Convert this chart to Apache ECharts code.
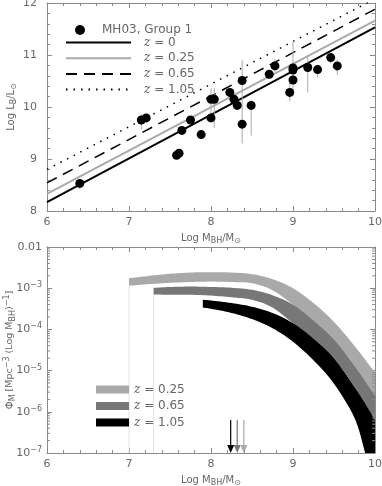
<!DOCTYPE html>
<html><head><meta charset="utf-8">
<script src="https://cdn.jsdelivr.net/npm/echarts@6/dist/echarts.min.js"></script>
<style>html,body{margin:0;padding:0;background:#fff}#c{width:382px;height:486px}</style>
</head><body><div id="c"></div>
<script>
// ---------- Top panel: MH03 Group 1 data ----------
const ptX = [6.40, 7.15, 7.21, 7.58, 7.61, 7.645, 7.75, 7.88, 8.00, 8.00, 8.04, 8.23, 8.28, 8.32, 8.38, 8.38, 8.49, 8.71, 8.78, 8.96, 9.00, 9.00, 9.00, 9.18, 9.30, 9.46, 9.54];
const ptY = [8.53, 9.75, 9.79, 9.07, 9.11, 9.55, 9.75, 9.47, 9.79, 10.15, 10.15, 10.28, 10.15, 10.03, 10.51, 9.67, 10.03, 10.63, 10.79, 10.28, 10.75, 10.71, 10.52, 10.76, 10.72, 10.95, 10.79];
const errLo = [8.42, 9.57, null, null, null, null, null, 9.40, null, 9.79, 9.60, 10.20, null, 9.95, 10.00, 9.30, 9.45, 10.55, 10.68, 10.11, 10.20, null, null, 10.28, 10.57, 10.84, 10.62];
const errHi = [8.60, 9.86, null, null, null, null, null, 9.55, null, 10.36, 10.37, 10.35, null, 10.10, 10.91, 10.00, 10.14, 10.70, 10.92, 10.46, 11.26, null, null, 11.00, 10.81, 11.03, 10.91];

// relations Log L_B vs Log M_BH
const relX = [6, 10];
const relZ0 = [8.17, 11.53];
const relZ025 = [8.33, 11.66];
const relZ065 = [8.54, 11.88];
const relZ105 = [8.80, 12.08];

// ---------- Bottom panel: mass function bands (log10 Phi) ----------
const bandAX = [7.0, 7.25, 7.5, 7.75, 8.0, 8.25, 8.5, 8.75, 9.0, 9.25, 9.5, 9.75, 10.0];
const bandAHi = [-2.76, -2.70, -2.65, -2.62, -2.61, -2.62, -2.66, -2.78, -3.00, -3.36, -3.82, -4.40, -5.05];
const bandALo = [-2.94, -2.90, -2.87, -2.85, -2.84, -2.85, -2.88, -3.05, -3.40, -3.78, -4.24, -4.88, -5.60];

const bandBX = [7.3, 7.5, 7.75, 8.0, 8.25, 8.5, 8.75, 9.0, 9.25, 9.5, 9.75, 10.0];
const bandBHi = [-2.99, -2.97, -2.96, -2.97, -2.99, -3.04, -3.17, -3.40, -3.78, -4.24, -4.88, -5.60];
const bandBLo = [-3.15, -3.16, -3.16, -3.18, -3.22, -3.28, -3.47, -3.85, -4.22, -4.70, -5.40, -6.20];

const bandCX = [7.9, 8.0, 8.25, 8.5, 8.75, 9.0, 9.25, 9.5, 9.75, 9.88, 10.0];
const bandCHi = [-3.28, -3.30, -3.36, -3.45, -3.60, -3.85, -4.22, -4.70, -5.40, -5.80, -6.20];
const bandCLo = [-3.47, -3.50, -3.60, -3.75, -3.97, -4.30, -4.75, -5.32, -6.15, -7.00, -7.90];

const arrowX = [8.24, 8.32, 8.40];
const arrowTopLog = -6.2;

// ---------- styles ----------
const FONT = 'DejaVu Sans';
const AX = '#8a8a8a';
const LBL = '#666';
const C_LIGHT = '#a9a9a9', C_MID = '#777777', C_DARK = '#000000';
const arrowColors = [C_DARK, C_MID, C_LIGHT];

const rich = {
  sub: {fontSize: 8, color: LBL, fontFamily: FONT, padding: [6, 0, 0, 0]},
  sup: {fontSize: 8, color: LBL, fontFamily: FONT, padding: [0, 0, 6, 0]},
  i: {fontStyle: 'italic', fontFamily: 'DejaVu Serif', fontSize: 12, color: '#555'},
  n: {fontSize: 10, color: LBL, fontFamily: FONT}
};

function xAxisCfg(grid, pos, labels, name) {
  return {
    gridIndex: grid, type: 'value', min: 6, max: 10, interval: 1, position: pos,
    axisLine: {show: true, onZero: false, lineStyle: {color: AX, width: 1}},
    axisTick: {show: true, inside: true, length: 5, lineStyle: {color: AX}},
    minorTick: {show: true, splitNumber: 5, length: 3, lineStyle: {color: AX}},
    splitLine: {show: false}, minorSplitLine: {show: false},
    axisLabel: {show: labels, color: LBL, fontSize: 11, margin: 6, fontFamily: FONT,
      formatter: v => String(v)},
    name: name || '', nameLocation: 'middle', nameGap: 20, nameMoveOverlap: false,
    nameTextStyle: {color: LBL, fontSize: 10, fontFamily: FONT, rich}
  };
}

// Catmull-Rom smoothing of pixel points (rendering only)
function smoothPts(pts) {
  const out = [];
  const n = pts.length;
  for (let i = 0; i < n - 1; i++) {
    const p0 = pts[Math.max(i - 1, 0)], p1 = pts[i], p2 = pts[i + 1], p3 = pts[Math.min(i + 2, n - 1)];
    const steps = 8;
    for (let s = 0; s < steps; s++) {
      const t = s / steps, t2 = t * t, t3 = t2 * t;
      const f = k => 0.5 * ((2 * p1[k]) + (-p0[k] + p2[k]) * t + (2 * p0[k] - 5 * p1[k] + 4 * p2[k] - p3[k]) * t2 + (-p0[k] + 3 * p1[k] - 3 * p2[k] + p3[k]) * t3);
      out.push([f(0), f(1)]);
    }
  }
  out.push(pts[n - 1]);
  return out;
}

function bandSeries(name, xs, hi, lo, color, drop) {
  return {
    type: 'custom', name, xAxisIndex: 2, yAxisIndex: 2, z: 3, clip: true,
    itemStyle: {color},
    data: xs.map((x, i) => [x, Math.pow(10, hi[i]), Math.pow(10, lo[i])]),
    renderItem: (params, api) => {
      if (params.dataIndex !== 0) return null;
      const top = smoothPts(xs.map((x, i) => api.coord([x, Math.pow(10, hi[i])])));
      const bot = smoothPts(xs.map((x, i) => api.coord([x, Math.pow(10, lo[i])]))).reverse();
      const children = [];
      if (drop) {
        const a = api.coord([xs[0], Math.pow(10, lo[0])]);
        const b = api.coord([xs[0], 1e-7]);
        children.push({type: 'line', shape: {x1: a[0], y1: a[1], x2: b[0], y2: b[1]},
          style: {stroke: '#e2e2e2', lineWidth: 1}});
      }
      children.push({type: 'polygon', shape: {points: top.concat(bot)},
        style: {fill: color}});
      return {type: 'group', children};
    }
  };
}

// minor ticks for the log axis (2..9 x 10^k)
const logMinor = [];
for (let k = -7; k <= -3; k++) for (let m = 2; m <= 9; m++) logMinor.push(m * Math.pow(10, k));

const option = {
  backgroundColor: '#fff',
  animation: false,
  textStyle: {fontFamily: FONT},
  grid: [
    {left: 47, right: 7, top: 3, height: 208, outerBoundsMode: 'none', containLabel: false},
    {left: 47, right: 7, top: 247, height: 206, outerBoundsMode: 'none', containLabel: false}
  ],
  xAxis: [
    xAxisCfg(0, 'bottom', true, 'Log M{sub|BH}/M{sub|⊙}'),
    xAxisCfg(0, 'top', false),
    xAxisCfg(1, 'bottom', true, 'Log M{sub|BH}/M{sub|⊙}'),
    xAxisCfg(1, 'top', false)
  ],
  yAxis: [
    {gridIndex: 0, type: 'value', min: 8, max: 12, interval: 1, position: 'left',
      axisLine: {show: true, onZero: false, lineStyle: {color: AX}},
      axisTick: {show: true, inside: true, length: 5, lineStyle: {color: AX}},
      minorTick: {show: true, splitNumber: 5, length: 3, lineStyle: {color: AX}},
      splitLine: {show: false},
      axisLabel: {color: LBL, fontSize: 11, margin: 10, fontFamily: FONT},
      name: 'Log L{sub|B}/L{sub|⊙}', nameLocation: 'middle', nameGap: 29, nameMoveOverlap: false,
      nameTextStyle: {color: LBL, fontSize: 10, fontFamily: FONT, rich}},
    {gridIndex: 0, type: 'value', min: 8, max: 12, interval: 1, position: 'right',
      axisLine: {show: true, onZero: false, lineStyle: {color: AX}},
      axisTick: {show: true, inside: true, length: 5, lineStyle: {color: AX}},
      minorTick: {show: true, splitNumber: 5, length: 3, lineStyle: {color: AX}},
      splitLine: {show: false}, axisLabel: {show: false}},
    {gridIndex: 1, type: 'log', logBase: 10, min: 1e-7, max: 0.01, position: 'left',
      axisLine: {show: true, onZero: false, lineStyle: {color: AX}},
      axisTick: {show: true, inside: true, length: 5, lineStyle: {color: AX}},
      minorTick: {show: false}, splitLine: {show: false},
      axisLabel: {color: LBL, fontSize: 11, margin: 5, fontFamily: FONT,
        formatter: v => {
          const e = Math.round(Math.log10(v));
          if (e === -2) return '0.01';
          return '10{sup|−' + (-e) + '}';
        }, rich},
      name: '{n|Φ}{sub|M} [Mpc{sup|−3} (Log M{sub|BH}){sup|−1}]', nameLocation: 'middle', nameGap: 30, nameMoveOverlap: false,
      nameTextStyle: {color: LBL, fontSize: 9.5, fontFamily: FONT, rich}},
    {gridIndex: 1, type: 'log', logBase: 10, min: 1e-7, max: 0.01, position: 'right',
      axisLine: {show: true, onZero: false, lineStyle: {color: AX}},
      axisTick: {show: true, inside: true, length: 5, lineStyle: {color: AX}},
      minorTick: {show: false}, splitLine: {show: false}, axisLabel: {show: false}}
  ],
  legend: [
    {data: ['MH03, Group 1'], left: 70, top: 19, itemWidth: 10, itemHeight: 10,
      selectedMode: false, itemStyle: {opacity: 1},
      textStyle: {color: LBL, fontSize: 12, fontFamily: FONT, padding: [0, 0, 0, 12]}},
    {data: ['z = 0', 'z = 0.25', 'z = 0.65', 'z = 1.05'], orient: 'vertical', left: 60, top: 30,
      itemWidth: 65, itemHeight: 15, itemGap: 0.7, selectedMode: false,
      itemStyle: {opacity: 0},
      formatter: n => n.replace('z', '{i|z}'),
      textStyle: {color: LBL, fontSize: 12, fontFamily: FONT, lineHeight: 15, padding: [0, 0, 0, 8], rich}},
    {data: ['z = 0.25 ', 'z = 0.65 ', 'z = 1.05 '], orient: 'vertical', left: 91, top: 377,
      icon: 'rect', itemWidth: 33, itemHeight: 8, itemGap: 1.5, selectedMode: false,
      formatter: n => n.trim().replace('z', '{i|z}'),
      textStyle: {color: LBL, fontSize: 12, fontFamily: FONT, lineHeight: 15, rich}}
  ],
  series: [
    {type: 'line', name: 'z = 0', xAxisIndex: 0, yAxisIndex: 0, symbol: 'none', z: 2,
      data: relX.map((x, i) => [x, relZ0[i]]), lineStyle: {color: '#000', width: 2}, itemStyle: {color: '#000', opacity: 0}},
    {type: 'line', name: 'z = 0.25', xAxisIndex: 0, yAxisIndex: 0, symbol: 'none', z: 2,
      data: relX.map((x, i) => [x, relZ025[i]]), lineStyle: {color: '#aaa', width: 2}, itemStyle: {color: '#aaa', opacity: 0}},
    {type: 'line', name: 'z = 0.65', xAxisIndex: 0, yAxisIndex: 0, symbol: 'none', z: 2,
      data: relX.map((x, i) => [x, relZ065[i]]), lineStyle: {color: '#000', width: 1.5, type: [11, 7]}, itemStyle: {color: '#000', opacity: 0}},
    {type: 'line', name: 'z = 1.05', xAxisIndex: 0, yAxisIndex: 0, symbol: 'none', z: 2,
      data: relX.map((x, i) => [x, relZ105[i]]), lineStyle: {color: '#000', width: 1.5, type: [1.5, 6]}, itemStyle: {color: '#000', opacity: 0}},
    {type: 'custom', name: 'err', xAxisIndex: 0, yAxisIndex: 0, z: 3,
      data: ptX.map((x, i) => [x, errLo[i], errHi[i]]).filter(d => d[1] !== null),
      renderItem: (params, api) => {
        const a = api.coord([api.value(0), api.value(1)]);
        const b = api.coord([api.value(0), api.value(2)]);
        return {type: 'line', shape: {x1: a[0], y1: a[1], x2: b[0], y2: b[1]},
          style: {stroke: '#aaa', lineWidth: 1}};
      }},
    {type: 'scatter', name: 'MH03, Group 1', xAxisIndex: 0, yAxisIndex: 0, z: 4,
      symbol: 'circle', symbolSize: 9, itemStyle: {color: '#000', opacity: 1},
      data: ptX.map((x, i) => [x, ptY[i]])},
    bandSeries('z = 0.25 ', bandAX, bandAHi, bandALo, C_LIGHT, true),
    bandSeries('z = 0.65 ', bandBX, bandBHi, bandBLo, C_MID, true),
    bandSeries('z = 1.05 ', bandCX, bandCHi, bandCLo, C_DARK, false),
    {type: 'custom', name: 'arrows', xAxisIndex: 2, yAxisIndex: 2, z: 5,
      data: arrowX.map(x => [x, Math.pow(10, arrowTopLog)]),
      renderItem: (params, api) => {
        const t = api.coord([api.value(0), api.value(1)]);
        const b = api.coord([api.value(0), 1e-7]);
        const col = arrowColors[params.dataIndex];
        return {type: 'group', children: [
          {type: 'line', shape: {x1: t[0], y1: t[1], x2: b[0], y2: b[1] - 6}, style: {stroke: col, lineWidth: 1.2}},
          {type: 'polygon', shape: {points: [[b[0] - 3.5, b[1] - 8], [b[0] + 3.5, b[1] - 8], [b[0], b[1]]]}, style: {fill: col}}
        ]};
      }},
    {type: 'custom', name: 'logminor', xAxisIndex: 2, yAxisIndex: 2, z: 6, silent: true,
      data: logMinor.map(v => [6, v]),
      renderItem: (params, api) => {
        const l = api.coord([6, api.value(1)]);
        const r = api.coord([10, api.value(1)]);
        return {type: 'group', children: [
          {type: 'line', shape: {x1: l[0], y1: l[1], x2: l[0] + 3, y2: l[1]}, style: {stroke: AX, lineWidth: 1}},
          {type: 'line', shape: {x1: r[0] - 3, y1: r[1], x2: r[0], y2: r[1]}, style: {stroke: AX, lineWidth: 1}}
        ]};
      }}
  ]
};
const chart = echarts.init(document.getElementById('c'), null, {renderer: 'canvas'});
chart.setOption(option);
</script>
</body></html>
